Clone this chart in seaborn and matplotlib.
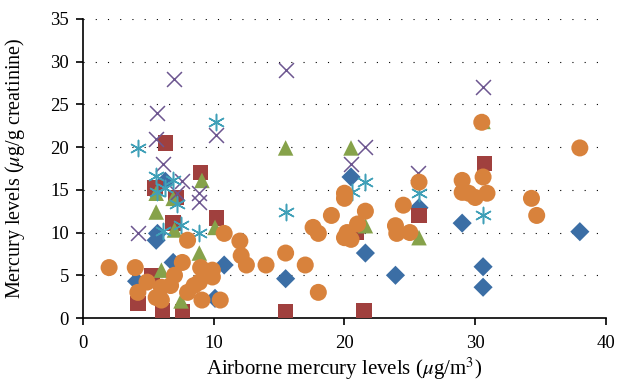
import pandas as pd
import matplotlib
matplotlib.use('Agg')
import matplotlib.pyplot as plt
import seaborn as sns

# series (x = airborne ug/m3, y = ug/g creatinine)
blue_x = [4.1, 5.6, 5.7, 6.3, 6.9, 10.1, 10.8, 15.5, 20.5, 21.6, 23.9, 25.7, 29.0, 30.6, 30.6, 38.0]
blue_y = [4.3, 9.1, 9.9, 16.0, 6.5, 2.3, 6.2, 4.6, 16.5, 7.6, 5.0, 12.9, 11.1, 6.0, 3.6, 10.1]

red_x = [4.2, 5.3, 5.5, 6.1, 6.3, 6.9, 7.1, 7.6, 9.0, 10.2, 15.5, 20.9, 21.5, 25.7, 30.7]
red_y = [1.7, 5.0, 15.2, 0.9, 20.5, 11.1, 14.1, 0.7, 17.0, 11.7, 0.7, 10.0, 0.9, 12.0, 18.1]

green_x = [5.6, 5.6, 6.0, 6.9, 7.0, 7.5, 8.9, 9.1, 10.1, 15.5, 20.5, 21.6, 25.7, 30.6]
green_y = [14.6, 12.4, 5.6, 14.0, 10.3, 2.0, 7.6, 16.1, 10.6, 19.9, 19.9, 10.8, 9.4, 23.0]

purple_x = [4.2, 5.6, 5.7, 6.1, 7.0, 7.2, 7.6, 8.9, 8.9, 10.2, 15.5, 20.5, 21.6, 25.6, 30.6]
purple_y = [10.0, 21.0, 24.0, 18.0, 28.0, 14.6, 16.0, 14.6, 13.6, 21.4, 29.0, 18.0, 20.0, 17.0, 27.0]

cyan_x = [4.2, 5.6, 5.7, 6.3, 6.1, 6.9, 7.2, 7.5, 8.9, 10.2, 15.5, 20.6, 21.6, 25.7, 30.6]
cyan_y = [19.9, 16.6, 14.8, 15.2, 10.2, 16.1, 13.3, 10.9, 10.0, 22.9, 12.4, 14.7, 15.9, 14.6, 12.0]

orange_x = [2.0, 4.0, 4.2, 4.9, 5.6, 6.0, 6.0, 6.7, 7.0, 7.6, 8.0, 8.0, 8.5, 8.9, 9.0, 9.1,
            9.9, 9.9, 10.5, 10.8, 12.0, 12.1, 12.5, 14.0, 15.5, 17.0, 17.6, 18.0, 18.0, 19.0,
            20.0, 20.0, 20.2, 20.0, 20.5, 21.0, 21.6, 23.9, 24.0, 24.5, 25.0, 25.7, 29.0, 29.0,
            29.5, 30.0, 30.5, 30.6, 30.9, 34.3, 34.7, 38.0]
orange_y = [5.9, 5.9, 3.0, 4.2, 2.4, 2.1, 3.6, 3.8, 5.0, 6.5, 9.1, 3.0, 3.8, 4.2, 5.9, 2.1,
            5.6, 4.8, 2.1, 9.9, 9.0, 7.3, 6.2, 6.2, 7.6, 6.2, 10.6, 9.9, 3.0, 12.0,
            14.6, 14.0, 10.0, 9.4, 9.2, 11.0, 12.5, 10.8, 9.9, 13.2, 10.0, 15.9, 16.1, 14.7,
            14.6, 14.1, 22.9, 16.5, 14.6, 14.0, 12.0, 19.9]

x_ticks = [0, 10, 20, 30, 40]
y_ticks = [0, 5, 10, 15, 20, 25, 30, 35]

sns.set_style('white')
plt.rcParams['font.family'] = ['Liberation Serif', 'DejaVu Serif']
plt.rcParams['mathtext.fontset'] = 'stix'

fig, ax = plt.subplots(figsize=(6.19, 3.85), dpi=100)
fig.subplots_adjust(left=0.134, right=0.979, top=0.951, bottom=0.174)

for yv in y_ticks[1:]:
    ax.axhline(yv, color='black', lw=0.8, ls=(0, (1, 10)), zorder=0)

series = [
    (blue_x, blue_y, '#3B6EA5', 'D', 95, None),
    (red_x, red_y, '#A0403E', 's', 125, None),
    (green_x, green_y, '#86A24A', '^', 125, None),
    (purple_x, purple_y, '#6D5690', 'x', 115, 1.1),
    (cyan_x, cyan_y, '#40A0B8', (6, 2, 0), 135, 1.1),
    (orange_x, orange_y, '#D8823C', 'o', 150, None),
]
for xs, ys, col, mk, sz, lw in series:
    df = pd.DataFrame({'x': xs, 'y': ys})
    if lw is None:
        sns.scatterplot(data=df, x='x', y='y', ax=ax, color=col, marker=mk, s=sz,
                        edgecolor='none', linewidth=0, zorder=3)
    else:
        sns.scatterplot(data=df, x='x', y='y', ax=ax, color=col, marker=mk, s=sz,
                        linewidth=lw, zorder=3)

ax.set_xlim(0, 40)
ax.set_ylim(0, 35)
ax.set_xticks(x_ticks)
ax.set_yticks(y_ticks)
sns.despine(ax=ax)
for sp in ['left', 'bottom']:
    ax.spines[sp].set_color('black')
    ax.spines[sp].set_linewidth(1.2)
ax.tick_params(axis='both', direction='out', length=5, width=1.2, color='black',
               labelsize=13.5, labelcolor='black', bottom=True, left=True)
ax.tick_params(axis='x', pad=7)
ax.tick_params(axis='y', pad=5)
ax.set_xlabel(r'Airborne mercury levels ($\mu$g/m$^3$)', fontsize=15, color='black', labelpad=3)
ax.set_ylabel(r'Mercury levels ($\mu$g/g creatinine)', fontsize=14.5, color='black', labelpad=17)

fig.savefig('out.png', dpi=100)
